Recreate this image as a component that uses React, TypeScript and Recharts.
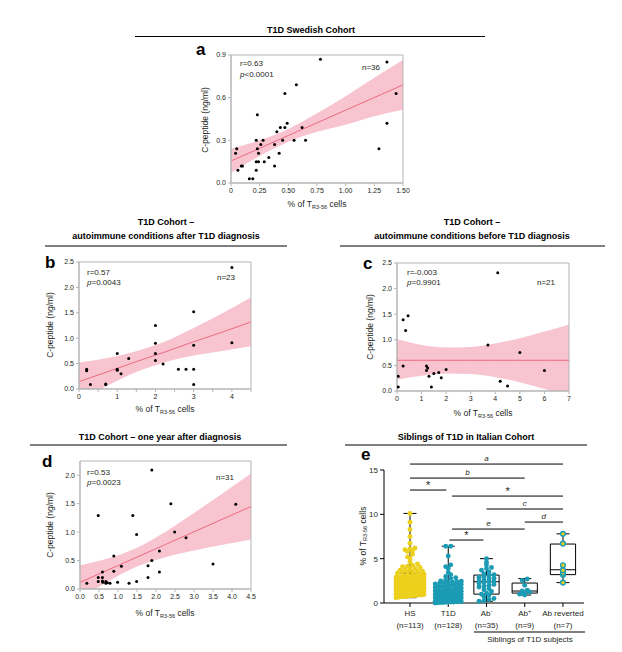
import React from 'react';
import { ComposedChart, Scatter, Line, Area, XAxis, YAxis, ReferenceArea, ReferenceLine } from 'recharts';

const FONT = '"Liberation Sans", Arial, Helvetica, sans-serif';
const INK = '#231f20';
const FRAME = '#b5b5b5';
const BAND = '#f8c4cf';
const FIT = '#ee6b80';
const YELLOW = '#ecd01c';
const TEAL = '#1c9bb5';

type Pt = [number, number];
type BandRow = [number, number, number, number]; // x, lower, fit, upper

// a – T1D Swedish cohort
const aPoints: Pt[] = [
  [0.78, 0.87], [1.36, 0.85], [0.57, 0.69], [0.47, 0.63], [1.44, 0.63], [0.23, 0.48],
  [0.49, 0.42], [1.36, 0.42], [0.40, 0.36], [0.43, 0.39], [0.47, 0.39], [0.62, 0.39],
  [0.22, 0.30], [0.28, 0.30], [0.45, 0.30], [0.55, 0.30], [0.65, 0.30], [0.26, 0.27],
  [0.38, 0.27], [0.05, 0.24], [0.23, 0.24], [1.29, 0.24], [0.04, 0.21], [0.24, 0.21],
  [0.42, 0.21], [0.33, 0.18], [0.22, 0.15], [0.24, 0.15], [0.29, 0.15], [0.09, 0.12],
  [0.10, 0.12], [0.38, 0.12], [0.22, 0.09], [0.06, 0.09], [0.16, 0.03], [0.19, 0.03],
];
const aBand: BandRow[] = [
  [0, 0.07, 0.155, 0.24], [0.25, 0.19, 0.244, 0.30], [0.5, 0.29, 0.334, 0.38], [0.75, 0.36, 0.423, 0.49],
  [1.0, 0.41, 0.512, 0.61], [1.25, 0.47, 0.601, 0.74], [1.5, 0.515, 0.69, 0.865],
];

// b – autoimmune conditions after diagnosis
const bPoints: Pt[] = [
  [4.0, 2.39], [3.0, 1.52], [2.0, 1.25], [2.0, 0.90], [4.0, 0.91], [3.0, 0.86], [1.0, 0.70],
  [2.0, 0.70], [1.3, 0.60], [2.0, 0.56], [2.2, 0.49], [0.2, 0.39], [0.2, 0.36], [1.0, 0.39],
  [1.0, 0.37], [2.6, 0.39], [2.8, 0.39], [3.0, 0.39], [1.1, 0.30], [0.3, 0.09], [0.7, 0.09],
  [0.7, 0.10], [3.0, 0.09],
];
const bBand: BandRow[] = [
  [0, -0.23, 0.145, 0.52], [0.75, 0.07, 0.34, 0.61], [1.5, 0.335, 0.54, 0.745], [2.25, 0.527, 0.73, 0.933],
  [3.0, 0.66, 0.93, 1.2], [3.75, 0.75, 1.12, 1.49], [4.5, 0.84, 1.32, 1.8],
];

// c – autoimmune conditions before diagnosis
const cPoints: Pt[] = [
  [4.1, 2.31], [0.45, 1.47], [0.25, 1.39], [0.35, 1.18], [3.7, 0.90], [5.0, 0.75], [0.25, 0.49],
  [1.2, 0.49], [2.0, 0.42], [1.2, 0.40], [6.0, 0.40], [0.05, 0.29], [1.3, 0.29], [1.5, 0.34],
  [1.7, 0.36], [1.8, 0.26], [4.2, 0.19], [0.05, 0.08], [1.4, 0.08], [4.5, 0.10], [1.25, 0.45],
];
const cBand: BandRow[] = [
  [0, 0.22, 0.6, 1.01], [1, 0.30, 0.6, 0.90], [2, 0.34, 0.6, 0.85], [3, 0.33, 0.6, 0.86],
  [4, 0.27, 0.6, 0.93], [5, 0.17, 0.6, 1.03], [6, 0.04, 0.6, 1.16], [7, -0.1, 0.6, 1.3],
];

// d – one year after diagnosis
const dPoints: Pt[] = [
  [1.89, 2.09], [0.48, 1.29], [1.39, 1.29], [2.39, 1.50], [4.10, 1.49], [1.49, 0.96], [2.49, 1.00],
  [2.79, 0.90], [2.09, 0.67], [0.89, 0.58], [1.89, 0.50], [1.09, 0.40], [1.79, 0.41], [3.50, 0.44],
  [0.89, 0.31], [0.59, 0.30], [2.09, 0.30], [0.48, 0.20], [0.59, 0.20], [1.79, 0.20], [0.18, 0.10],
  [0.48, 0.13], [0.59, 0.14], [0.68, 0.13], [0.68, 0.10], [0.79, 0.10], [0.99, 0.12], [1.29, 0.10],
  [1.49, 0.13], [0.60, 0.12], [0.72, 0.11],
];
const dBand: BandRow[] = [
  [0, -0.18, 0.116, 0.416], [0.75, 0.137, 0.338, 0.539], [1.5, 0.396, 0.561, 0.726], [2.25, 0.559, 0.783, 1.007],
  [3.0, 0.675, 1.006, 1.337], [3.75, 0.776, 1.228, 1.68], [4.5, 0.87, 1.45, 2.03],
];

// e – siblings, Italian cohort (% of TR3-56 cells)
const groupNames = ['HS', 'T1D', 'Ab', 'Ab', 'Ab reverted'];
const groupSup = ['', '', '-', '+', ''];
const groupCounts = ['(n=113)', '(n=128)', '(n=35)', '(n=9)', '(n=7)'];
const hsValues = [
  0.6, 0.65, 0.7, 0.7, 0.75, 0.8, 0.8, 0.85, 0.9, 0.9, 0.95, 1.0, 1.0, 1.0, 1.05, 1.1, 1.1, 1.15, 1.15, 1.2,
  1.2, 1.2, 1.25, 1.25, 1.3, 1.3, 1.3, 1.35, 1.4, 1.4, 1.45, 1.5, 1.5, 1.55, 1.6, 1.6, 1.65, 1.7,
  1.7, 1.75, 1.8, 1.8, 1.85, 1.9, 1.9, 1.95, 2.0, 2.0, 2.05, 2.1, 2.1, 2.15, 2.2, 2.2, 2.25, 2.3, 2.3,
  2.35, 2.4, 2.4, 2.45, 2.5, 2.5, 2.55, 2.6, 2.6, 2.65, 2.7, 2.7, 2.75, 2.8, 2.8, 2.85, 2.9, 2.9,
  2.95, 3.0, 3.0, 3.05, 3.1, 3.1, 3.15, 3.2, 3.25, 3.35, 3.4, 3.45, 3.5, 3.55, 3.6, 3.7, 3.75, 3.8,
  3.9, 4.0, 4.1, 4.15, 4.25, 4.4, 4.65, 5.0, 5.2, 5.5, 5.8, 5.9, 6.0, 6.1, 6.2, 6.75, 7.5, 8.3, 9.1, 10.1,
];
const t1dValues = [
  0.0, 0.02, 0.05, 0.05, 0.08, 0.1, 0.1, 0.12, 0.15, 0.15, 0.18, 0.2, 0.2, 0.22, 0.25, 0.25, 0.28, 0.3,
  0.3, 0.32, 0.35, 0.35, 0.38, 0.4, 0.4, 0.42, 0.44, 0.45, 0.46, 0.48, 0.49, 0.5, 0.52, 0.53, 0.55,
  0.56, 0.58, 0.6, 0.6, 0.62, 0.64, 0.65, 0.67, 0.68, 0.7, 0.7, 0.72, 0.74, 0.75, 0.77, 0.78, 0.8, 0.8,
  0.82, 0.84, 0.85, 0.87, 0.88, 0.9, 0.9, 0.92, 0.93, 0.94, 0.95, 0.96, 0.98, 1.0, 1.0, 1.02, 1.05,
  1.06, 1.08, 1.1, 1.1, 1.12, 1.15, 1.16, 1.18, 1.2, 1.2, 1.22, 1.25, 1.27, 1.28, 1.3, 1.3, 1.32, 1.35,
  1.36, 1.38, 1.4, 1.42, 1.44, 1.46, 1.48, 1.5, 1.55, 1.6, 1.65, 1.7, 1.75, 1.8, 1.85, 1.9, 1.95, 2.0,
  2.05, 2.1, 2.15, 2.2, 2.25, 2.3, 2.35, 2.4, 2.45, 2.5, 2.6, 2.75, 2.85, 3.0, 3.2, 3.45, 3.9, 4.1,
  4.3, 5.3, 6.4, 6.4,
];
const abNegValues = [
  0.2, 0.25, 0.4, 0.5, 0.7, 0.9, 1.0, 1.1, 1.3, 1.5, 1.6, 1.8, 1.9, 2.0, 2.1, 2.2, 2.3, 2.4, 2.4, 2.5,
  2.6, 2.7, 2.8, 2.9, 3.0, 3.1, 3.2, 3.3, 3.5, 3.7, 3.9, 4.0, 4.3, 4.6, 5.0,
];
const abPosValues = [0.9, 1.0, 1.1, 1.25, 1.35, 1.45, 2.0, 2.55, 2.7];
const abRevValues = [2.3, 3.2, 3.4, 3.7, 4.25, 6.7, 7.8];
// min, q1, median, q3, max
const boxStats = [
  [0.6, 1.35, 2.3, 3.35, 10.1],
  [0.0, 0.5, 0.95, 1.5, 6.4],
  [0.2, 1.0, 2.4, 3.15, 5.0],
  [0.9, 1.12, 1.35, 2.25, 2.75],
  [2.3, 3.2, 3.75, 6.65, 7.8],
];
// from group, to group, level, label
const sigBars: [number, number, number, string][] = [
  [1, 5, 15.67, 'a'], [1, 4, 14.09, 'b'], [1, 1.95, 12.74, '*'], [2.1, 5, 12.06, '*'],
  [3, 5, 10.6, 'c'], [4, 5, 9.13, 'd'], [2.1, 4, 8.34, 'e'], [2.03, 2.92, 7.1, '*'],
];

const tickFont = { fontSize: 7, fill: INK, fontFamily: FONT };

const BlackDot = (p: any) => <circle cx={p.cx} cy={p.cy} r={1.5} fill="#000" />;

function FitPanel(props: any) {
  const { left, top, width, height, margin, yWidth, xDomain, xTicks, xFmt, yDomain, yTicks, yFmt, points, band } = props;
  const rows = band.map(([x, lo, fit, hi]: BandRow) => ({ x, fit, range: [lo, hi] }));
  const dots = points.map(([x, y]: Pt) => ({ x, y }));
  return (
    <div style={{ position: 'absolute', left, top }}>
      <ComposedChart width={width} height={height} data={rows} margin={margin}>
        <XAxis type="number" dataKey="x" domain={xDomain} ticks={xTicks} tickFormatter={xFmt} allowDataOverflow
          interval={0} height={30} tickSize={3} tickLine={{ stroke: FRAME }} axisLine={{ stroke: FRAME }} tick={tickFont} />
        <YAxis type="number" domain={yDomain} ticks={yTicks} tickFormatter={yFmt} allowDataOverflow
          interval={0} width={yWidth} tickSize={3} tickLine={{ stroke: FRAME }} axisLine={{ stroke: FRAME }} tick={tickFont} />
        <Area dataKey="range" type="monotone" stroke="none" fill={BAND} fillOpacity={1}
          isAnimationActive={false} dot={false} activeDot={false} />
        <Line dataKey="fit" type="linear" stroke={FIT} strokeWidth={1} dot={false} activeDot={false} isAnimationActive={false} />
        <ReferenceArea x1={xDomain[0]} x2={xDomain[1]} y1={yDomain[0]} y2={yDomain[1]} fill="none" stroke={FRAME} strokeWidth={1} />
        <Scatter data={dots} dataKey="y" isAnimationActive={false} shape={BlackDot} />
      </ComposedChart>
    </div>
  );
}

// spread dots of one group in horizontal rows (scatter dot plot layout)
function swarm(values: number[], pxPerUnit: number, maxHalf: number) {
  const rows = new Map<number, number[]>();
  values.forEach((v) => {
    const k = Math.round((v * pxPerUnit) / 3.4);
    if (!rows.has(k)) rows.set(k, []);
    rows.get(k)!.push(v);
  });
  const out: { y: number; dx: number }[] = [];
  rows.forEach((list) => {
    const n = list.length;
    const step = n > 1 ? Math.min(5, (2 * maxHalf) / (n - 1)) : 0;
    list.forEach((v, i) => out.push({ y: v, dx: (i - (n - 1) / 2) * step }));
  });
  return out;
}

const GroupTick = (p: any) => {
  const i = p.payload.value - 1;
  return (
    <g fontFamily={FONT} fontSize={8} fill={INK}>
      <text x={p.x} y={p.y + 7} textAnchor="middle">
        <tspan>{groupNames[i]}</tspan>
        {groupSup[i] && <tspan dy={-3} fontSize={5.5}>{groupSup[i]}</tspan>}
      </text>
      <text x={p.x} y={p.y + 19} textAnchor="middle">{groupCounts[i]}</text>
    </g>
  );
};

function SiblingPanel() {
  const plotH = 133;
  const ppu = plotH / 15;
  const groups = [
    { values: hsValues, fill: YELLOW, stroke: 'none', half: 14 },
    { values: t1dValues, fill: TEAL, stroke: 'none', half: 13 },
    { values: abNegValues, fill: TEAL, stroke: 'none', half: 12 },
    { values: abPosValues, fill: TEAL, stroke: 'none', half: 10 },
    { values: abRevValues, fill: YELLOW, stroke: TEAL, half: 7 },
  ];
  const boxHalf = 0.33;
  const capHalf = 0.17;
  const refs: any[] = [];
  boxStats.forEach(([mn, q1, med, q3, mx], i) => {
    const g = i + 1;
    const ls = { stroke: '#000', strokeWidth: 1, ifOverflow: 'visible' as const };
    refs.push(<ReferenceLine key={`wl${i}`} segment={[{ x: g, y: mn }, { x: g, y: q1 }]} {...ls} />);
    refs.push(<ReferenceLine key={`wh${i}`} segment={[{ x: g, y: q3 }, { x: g, y: mx }]} {...ls} />);
    refs.push(<ReferenceLine key={`cl${i}`} segment={[{ x: g - capHalf, y: mn }, { x: g + capHalf, y: mn }]} {...ls} />);
    refs.push(<ReferenceLine key={`ch${i}`} segment={[{ x: g - capHalf, y: mx }, { x: g + capHalf, y: mx }]} {...ls} />);
    refs.push(<ReferenceArea key={`bx${i}`} x1={g - boxHalf} x2={g + boxHalf} y1={q1} y2={q3} fill="none" fillOpacity={0} stroke="#000" strokeWidth={1} />);
    refs.push(<ReferenceLine key={`md${i}`} segment={[{ x: g - boxHalf, y: med }, { x: g + boxHalf, y: med }]} {...ls} />);
  });
  const sig = sigBars.map(([a, b, lvl, lab], i) => (
    <ReferenceLine key={`sg${i}`} segment={[{ x: a, y: lvl }, { x: b, y: lvl }]} stroke="#000" strokeWidth={1} ifOverflow="visible"
      label={{ value: lab, position: 'top', offset: lab === '*' ? 1 : 3, fill: INK, fontFamily: FONT,
        fontSize: lab === '*' ? 11 : 8, fontStyle: lab === '*' ? 'normal' : 'italic' }} />
  ));
  return (
    <div style={{ position: 'absolute', left: 340, top: 440 }}>
      <ComposedChart width={270} height={212} margin={{ top: 30, right: 26, bottom: 19, left: 0 }}>
        <XAxis type="number" dataKey="x" domain={[0.32, 5.55]} ticks={[1, 2, 3, 4, 5]} interval={0} allowDataOverflow
          height={30} tickSize={4} tickLine={{ stroke: '#000' }} axisLine={{ stroke: '#000' }} tick={<GroupTick />} />
        <YAxis type="number" domain={[0, 15]} ticks={[0, 5, 10, 15]} interval={0} width={44} tickSize={4}
          tickLine={{ stroke: '#000' }} axisLine={{ stroke: '#000' }} tick={{ fontSize: 8, fill: INK, fontFamily: FONT }} />
        {groups.map((g, i) => {
          const data = swarm(g.values, ppu, g.half).map((p) => ({ x: i + 1, y: p.y, dx: p.dx }));
          const r = g.stroke === 'none' ? 2.45 : 2.4;
          return (
            <Scatter key={`g${i}`} data={data} dataKey="y" isAnimationActive={false}
              shape={(p: any) => (
                <circle cx={p.cx + (p.payload?.dx ?? 0)} cy={p.cy} r={r} fill={g.fill}
                  stroke={g.stroke === 'none' ? 'none' : g.stroke} strokeWidth={1.4} />
              )} />
          );
        })}
        {refs}
        {sig}
      </ComposedChart>
    </div>
  );
}

const XLab = ({ x, y, size = 8.5 }: { x: number; y: number; size?: number }) => (
  <text x={x} y={y} textAnchor="middle" fontSize={size} fill={INK}>
    <tspan>% of T</tspan>
    <tspan fontSize={5.5} dy={1.5}>R3-56</tspan>
    <tspan dy={-1.5}> cells</tspan>
  </text>
);

const YLab = ({ x, y, children }: { x: number; y: number; children: React.ReactNode }) => (
  <text x={x} y={y} transform={`rotate(-90 ${x} ${y})`} textAnchor="middle" dominantBaseline="central" fontSize={8.5} fill={INK}>
    {children}
  </text>
);

const Stat = ({ x, y, r, p }: { x: number; y: number; r: string; p: string }) => (
  <g fontSize={8} fill={INK}>
    <text x={x} y={y}>{r}</text>
    <text x={x} y={y + 10.5}><tspan fontStyle="italic">p</tspan>{p}</text>
  </g>
);

const fmt1 = (v: number) => v.toFixed(1);
const fmtInt = (v: number) => (Number.isInteger(v) ? String(v) : '');

export default function App() {
  return (
    <div style={{ position: 'absolute', left: 0, top: 0, width: 622, height: 652, background: '#fff', fontFamily: FONT }}>
      <FitPanel left={180} top={40} width={240} height={175} margin={{ top: 15, right: 17, bottom: 2, left: 0 }} yWidth={51}
        xDomain={[0, 1.5]} xTicks={[0, 0.25, 0.5, 0.75, 1, 1.25, 1.5]} xFmt={(v: number) => (v === 0 ? '0' : v.toFixed(2))}
        yDomain={[0, 0.9]} yTicks={[0, 0.3, 0.6, 0.9]} yFmt={fmt1} points={aPoints} band={aBand} />
      <FitPanel left={40} top={250} width={230} height={170} margin={{ top: 12, right: 19, bottom: 1, left: 0 }} yWidth={39}
        xDomain={[0, 4.5]} xTicks={[0, 0.5, 1, 1.5, 2, 2.5, 3, 3.5, 4, 4.5]} xFmt={fmtInt}
        yDomain={[0, 2.5]} yTicks={[0, 0.5, 1, 1.5, 2, 2.5]} yFmt={fmt1} points={bPoints} band={bBand} />
      <FitPanel left={355} top={250} width={235} height={175} margin={{ top: 13, right: 21, bottom: 4, left: 0 }} yWidth={42}
        xDomain={[0, 7]} xTicks={[0, 1, 2, 3, 4, 5, 6, 7]} xFmt={fmtInt}
        yDomain={[0, 2.5]} yTicks={[0, 0.5, 1, 1.5, 2, 2.5]} yFmt={fmt1} points={cPoints} band={cBand} />
      <FitPanel left={40} top={450} width={230} height={172} margin={{ top: 11, right: 19, bottom: 3, left: 0 }} yWidth={40}
        xDomain={[0, 4.5]} xTicks={[0, 0.5, 1, 1.5, 2, 2.5, 3, 3.5, 4, 4.5]} xFmt={fmt1}
        yDomain={[0, 2.25]} yTicks={[0, 0.5, 1, 1.5, 2]} yFmt={fmt1} points={dPoints} band={dBand} />
      <SiblingPanel />

      <svg width={622} height={652} style={{ position: 'absolute', left: 0, top: 0, pointerEvents: 'none' }} fontFamily={FONT}>
        <g fontWeight="bold" fontSize={9} fill="#000" textAnchor="middle">
          <text x={311} y={33}>T1D Swedish Cohort</text>
          <text x={166} y={225}>T1D Cohort –</text>
          <text x={166} y={239}>autoimmune conditions after T1D diagnosis</text>
          <text x={472} y={225}>T1D Cohort –</text>
          <text x={472} y={239}>autoimmune conditions before T1D diagnosis</text>
          <text x={160} y={440}>T1D Cohort – one year after diagnosis</text>
          <text x={466} y={440}>Siblings of T1D in Italian Cohort</text>
        </g>
        <g stroke="#000" strokeWidth={1.2}>
          <line x1={135} x2={485} y1={36.5} y2={36.5} />
          <line x1={45} x2={287} y1={246} y2={246} />
          <line x1={340} x2={605} y1={246} y2={246} />
          <line x1={30} x2={287} y1={445} y2={445} />
          <line x1={345} x2={587} y1={445} y2={445} />
        </g>
        <g fontWeight="bold" fontSize={17} fill="#000">
          <text x={196} y={55}>a</text>
          <text x={45} y={268}>b</text>
          <text x={363} y={269}>c</text>
          <text x={42} y={467}>d</text>
          <text x={361} y={460}>e</text>
        </g>

        <YLab x={205} y={120}>C-peptide (ng/ml)</YLab>
        <YLab x={50} y={325}>C-peptide (ng/ml)</YLab>
        <YLab x={370} y={327}>C-peptide (ng/ml)</YLab>
        <YLab x={50} y={525}>C-peptide (ng/ml)</YLab>
        <text x={363} y={536} transform="rotate(-90 363 536)" textAnchor="middle" dominantBaseline="central" fontSize={8.5} fill={INK}>
          <tspan>% of T</tspan>
          <tspan fontSize={5.5} dy={1.5}>R3-56</tspan>
          <tspan dy={-1.5}> cells</tspan>
        </text>

        <XLab x={317} y={207} />
        <XLab x={165} y={412} />
        <XLab x={483} y={416} />
        <XLab x={165} y={616} />

        <Stat x={240} y={66} r="r=0.63" p="<0.0001" />
        <text x={362} y={70} fontSize={8} fill={INK}>n=36</text>
        <Stat x={87} y={274.5} r="r=0.57" p="=0.0043" />
        <text x={217} y={280} fontSize={8} fill={INK}>n=23</text>
        <Stat x={407} y={274.5} r="r=-0.003" p="=0.9901" />
        <text x={537} y={285} fontSize={8} fill={INK}>n=21</text>
        <Stat x={87} y={474.5} r="r=0.53" p="=0.0023" />
        <text x={216} y={480} fontSize={8} fill={INK}>n=31</text>

        <line x1={474} x2={585} y1={632} y2={632} stroke="#000" strokeWidth={1} />
        <text x={530} y={642} textAnchor="middle" fontSize={8} fill={INK}>Siblings of T1D subjects</text>
      </svg>
    </div>
  );
}
